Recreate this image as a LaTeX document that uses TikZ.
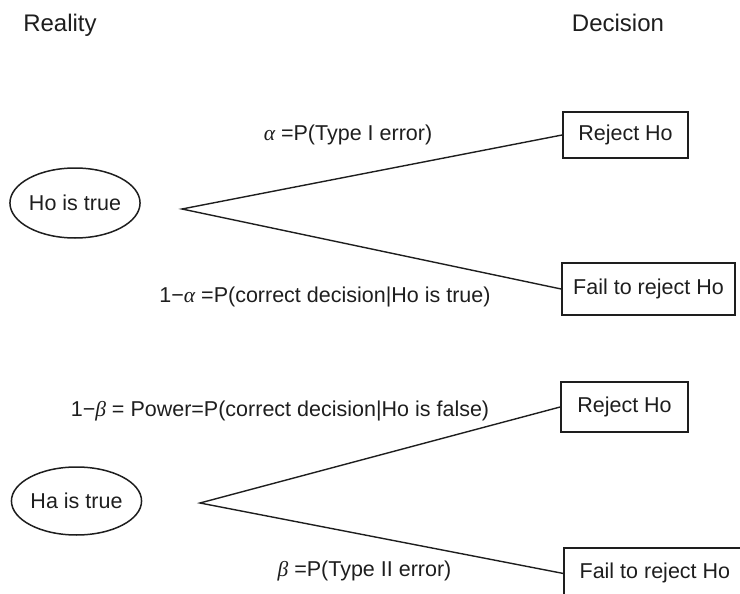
\documentclass[tikz,border=0pt]{standalone}
\usepackage{fontspec}
\setmainfont{Liberation Sans}
\newfontfamily\grk{Liberation Serif}
\newcommand{\gal}{{\grk\itshape α}}
\newcommand{\gbe}{{\grk\itshape β}}
\usetikzlibrary{shapes.geometric}
\definecolor{ink}{RGB}{30,30,30}
\begin{document}
\begin{tikzpicture}[x=1pt,y=-1pt,
  every node/.style={text=ink},
  font=\fontsize{21.5}{26}\selectfont,
  titletext/.style={font=\fontsize{24}{28}\selectfont, inner sep=0, anchor=base},
  lbl/.style={inner sep=0, anchor=base},
  state/.style={draw=ink, ellipse, line width=1.5pt, inner sep=0},
  decbox/.style={draw=ink, rectangle, line width=1.8pt, inner sep=0},
  branch/.style={draw=ink, line width=1.4pt}]
\useasboundingbox (0,0) rectangle (740,594);
\clip (0,0) rectangle (740,594);

% titles
\node[titletext] (reality) at (60,32) {Reality};
\node[titletext] (decision) at (618,32) {Decision};

% upper tree
\node[state, minimum width=120, minimum height=70] (ho) at (75,203) {Ho is true};
\coordinate (b1) at (182,209);
\node[decbox, minimum width=125, minimum height=46] (rej1) at (625.5,135) {Reject Ho};
\node[decbox, minimum width=173, minimum height=52] (fail1) at (648.5,289) {Fail to reject Ho};
\draw[branch] (rej1.west) -- (b1) -- (fail1.west);
\node[lbl] (la) at (348,141) {\gal\ =P(Type I error)};
\node[lbl] (lna) at (325,302) {1−\gal\ =P(correct decision|Ho is true)};

% lower tree
\node[state, minimum width=127, minimum height=68] (ha) at (76.5,501) {Ha is true};
\coordinate (b2) at (200,503);
\node[decbox, minimum width=127, minimum height=50] (rej2) at (624.5,407) {Reject Ho};
\node[decbox, minimum width=182, minimum height=51, anchor=north west] (fail2) at (563,547) {Fail to reject Ho};
\draw[branch] (rej2.west) -- (b2) -- (fail2.west);
\node[lbl] (lnb) at (280,416) {1−\gbe\ = Power=P(correct decision|Ho is false)};
\node[lbl] (lb) at (364.5,576) {\gbe\ =P(Type II error)};
\end{tikzpicture}
\end{document}
